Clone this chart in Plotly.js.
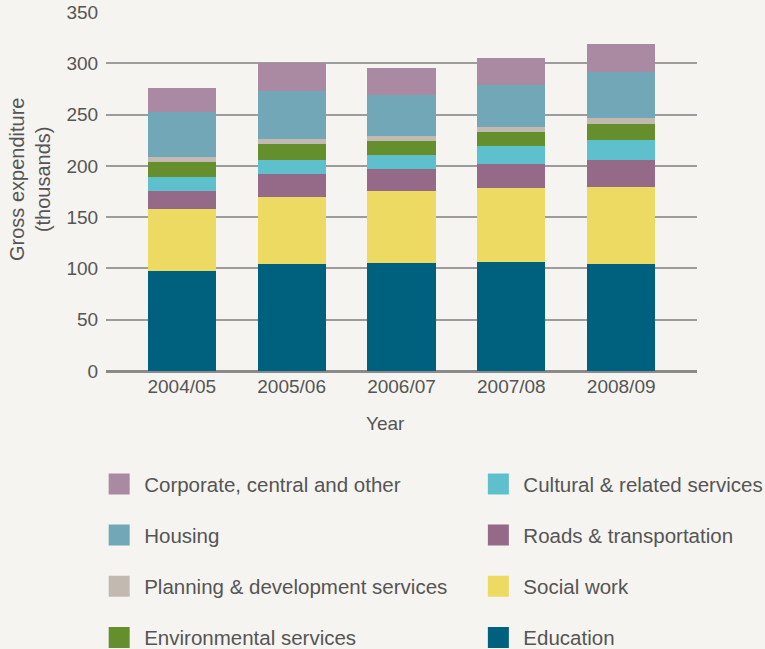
<!DOCTYPE html>
<html>
<head>
<meta charset="utf-8">
<script src="https://cdn.plot.ly/plotly-3.0.1.min.js"></script>
<style>
  html, body { margin: 0; padding: 0; background: #F5F4F0; }
  #chart { width: 765px; height: 649px; }
</style>
</head>
<body>
<div id="chart"></div>
<script>
// ---- Data (in thousands) ----
const years = ["2004/05", "2005/06", "2006/07", "2007/08", "2008/09"];

const education     = [97.5, 104.3, 105.3, 106.3, 104.3];
const socialWork    = [60.5, 65.3, 70.2, 72.1, 75.1];
const roads         = [17.5, 22.4, 21.5, 23.4, 26.3];
const cultural      = [13.5, 13.7, 13.6, 17.6, 19.5];
const environmental = [14.8, 15.6, 13.6, 13.6, 15.6];
const planning      = [5.2, 4.9, 4.8, 5.2, 5.9];
const housing       = [43.5, 46.8, 40.0, 40.6, 44.8];
const corporate     = [23.5, 27.3, 26.4, 26.2, 27.3];

const yTicks = [0, 50, 100, 150, 200, 250, 300, 350];

// ---- Series definitions (stack order bottom -> top) ----
const series = [
  { name: "Education",                        values: education,     color: "#00617F", legend: "legend2" },
  { name: "Social work",                      values: socialWork,    color: "#ECDA62", legend: "legend2" },
  { name: "Roads & transportation",           values: roads,         color: "#956A88", legend: "legend2" },
  { name: "Cultural & related services",      values: cultural,      color: "#5EBFCD", legend: "legend2" },
  { name: "Environmental services",           values: environmental, color: "#658F2C", legend: "legend" },
  { name: "Planning & development services",  values: planning,      color: "#C2B9B0", legend: "legend" },
  { name: "Housing",                          values: housing,       color: "#72A7B8", legend: "legend" },
  { name: "Corporate, central and other",     values: corporate,     color: "#AA89A3", legend: "legend" }
];

// legend ordering (top to bottom within each column)
const legendRank = {
  "Corporate, central and other": 1, "Housing": 2, "Planning & development services": 3, "Environmental services": 4,
  "Cultural & related services": 1, "Roads & transportation": 2, "Social work": 3, "Education": 4
};

const traces = [];
series.forEach(s => {
  traces.push({
    type: "bar",
    x: years,
    y: s.values,
    name: s.name,
    marker: { color: s.color, line: { width: 0 } },
    showlegend: false,
    hoverinfo: "name+y"
  });
});
// legend entries (swatches)
series.forEach(s => {
  traces.push({
    type: "scatter",
    mode: "markers",
    x: [null],
    y: [null],
    name: s.name,
    legend: s.legend,
    legendgroup: s.name,
    legendrank: legendRank[s.name],
    marker: { symbol: "square", size: 16, color: s.color, line: { width: 5, color: s.color } },
    showlegend: true
  });
});

const fontFam = "Liberation Sans, Arial, sans-serif";
const txtColor = "#555555";

const legendCommon = {
  orientation: "v",
  bgcolor: "rgba(0,0,0,0)",
  borderwidth: 0,
  font: { family: fontFam, size: 20.5, color: txtColor },
  itemwidth: 40,
  tracegroupgap: 21.5,
  traceorder: "grouped",
  xanchor: "left",
  yanchor: "top",
  itemclick: false,
  itemdoubleclick: false
};

const plotL = 106, plotR = 697, plotT = 12, plotB = 371;
const pw = plotR - plotL, ph = plotB - plotT;

const layout = {
  width: 765,
  height: 649,
  paper_bgcolor: "#F5F4F0",
  plot_bgcolor: "#F5F4F0",
  barmode: "stack",
  bargap: 0.38,
  margin: { l: plotL, r: 765 - plotR, t: plotT, b: 649 - plotB, autoexpand: false },
  font: { family: fontFam, color: txtColor, size: 19 },
  xaxis: {
    type: "category",
    range: [-0.69, 4.69],
    showgrid: false,
    showline: false,
    zeroline: false,
    ticks: "",
    ticklabelstandoff: 2,
    tickfont: { family: fontFam, size: 19, color: txtColor },
    fixedrange: true
  },
  yaxis: {
    range: [0, 350],
    tickvals: yTicks,
    ticktext: yTicks.map(String),
    showgrid: true,
    gridcolor: "#9C9C9C",
    gridwidth: 2,
    zeroline: true,
    zerolinecolor: "#8A8A8A",
    zerolinewidth: 3,
    showline: false,
    ticks: "outside",
    ticklen: 3,
    tickcolor: "rgba(0,0,0,0)",
    tickfont: { family: fontFam, size: 19, color: txtColor },
    fixedrange: true
  },
  annotations: [
    {
      text: "Year",
      xref: "paper", yref: "paper",
      x: (385 - plotL) / pw, y: -(423 - plotB) / ph,
      xanchor: "center", yanchor: "middle",
      showarrow: false,
      font: { family: fontFam, size: 19, color: txtColor }
    },
    {
      text: "Gross expenditure<br>(thousands)",
      xref: "paper", yref: "paper",
      x: -(plotL - 30) / pw, y: (plotB - 180) / ph,
      xanchor: "center", yanchor: "middle",
      textangle: -90,
      showarrow: false,
      font: { family: fontFam, size: 20, color: txtColor }
    }
  ],
  legend: Object.assign({}, legendCommon, { x: -0.02, y: -0.2594 }),
  legend2: Object.assign({}, legendCommon, { x: 0.6216, y: -0.2594 }),
  showlegend: true
};

Plotly.newPlot("chart", traces, layout, { displayModeBar: false, staticPlot: false, responsive: false });
</script>
</body>
</html>
